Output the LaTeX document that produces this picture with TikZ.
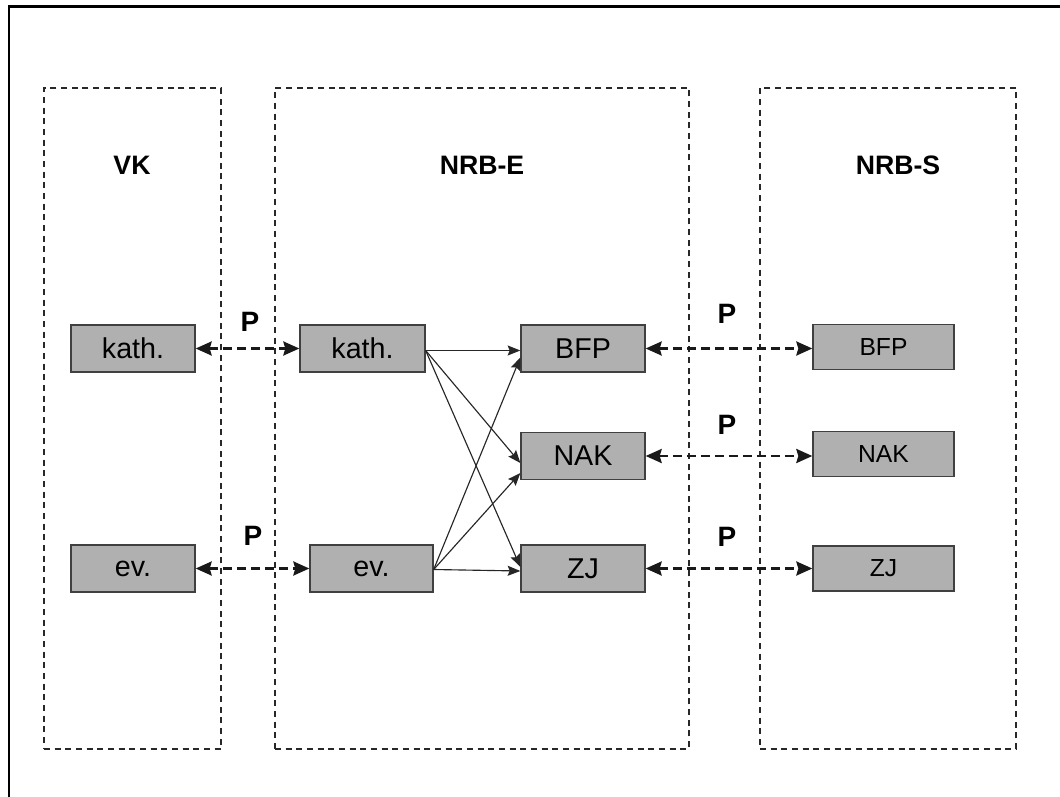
\documentclass[tikz,border=0pt]{standalone}
\usepackage{fontspec}
\setmainfont{Liberation Sans}
\usetikzlibrary{arrows.meta,calc}
\definecolor{boxgray}{RGB}{176,176,176}
\definecolor{framegray}{RGB}{40,40,40}
\begin{document}
\begin{tikzpicture}[x=0.75pt,y=-0.75pt,
  frame/.style={draw=framegray, line width=1.4pt, dash pattern=on 4.6pt off 3.4pt, minimum height=495.75pt, inner sep=0pt},
  box/.style={draw=black!75, fill=boxgray, line width=1pt, minimum width=93pt, minimum height=35.25pt, inner sep=0pt, font=\fontsize{21.5}{25}\selectfont},
  sbox/.style={box, minimum width=105.75pt, minimum height=33.75pt, font=\fontsize{18.5}{22}\selectfont},
  title/.style={font=\bfseries\fontsize{20}{24}\selectfont},
  plabel/.style={font=\bfseries\fontsize{21}{25}\selectfont},
  link/.style={black!90, line width=2pt, dash pattern=on 6.5pt off 4pt,
    {Stealth[length=12pt,width=10.5pt,inset=1.5pt]}-{Stealth[length=12pt,width=10.5pt,inset=1.5pt]}},
  flow/.style={black!85, line width=0.85pt, -{Stealth[length=9.5pt,width=7.5pt,inset=1.5pt]}}
]
\useasboundingbox (0,0) rectangle (1060,796);
\fill[white] (0,0) rectangle (1060,796);
% outer frame (only left and top edges visible)
\draw[line width=2.2pt] (9,805) -- (9,6.7) -- (1070,6.7);

% containers
\node[frame, minimum width=132.75pt] (cvk) at (132.5,418.5) {};
\node[frame, minimum width=310.5pt] (cnrbe) at (482,418.5) {};
\node[frame, minimum width=192pt] (cnrbs) at (888,418.5) {};

% titles
\node[title] (tvk) at (132,165) {VK};
\node[title] (tnrbe) at (482,165) {NRB-E};
\node[title] (tnrbs) at (898,165) {NRB-S};

% boxes
\node[box] (vkk) at (133,348.5) {kath.};
\node[box] (vke) at (133,568.5) {ev.};
\node[box, minimum width=93.75pt] (ek) at (362.5,348.5) {kath.};
\node[box, minimum width=92.25pt] (ee) at (371.5,568.5) {ev.};
\node[box] (bfp) at (583,348.5) {BFP};
\node[box] (nak) at (583,456) {NAK};
\node[box] (zj) at (583,568.5) {ZJ};
\node[sbox] (sbfp) at (883.5,347) {BFP};
\node[sbox] (snak) at (883.5,454) {NAK};
\node[sbox] (szj) at (883.5,568.5) {ZJ};

% P labels
\node[plabel] (p1) at (250,322) {P};
\node[plabel] (p2) at (253,536) {P};
\node[plabel] (p3) at (727,314) {P};
\node[plabel] (p4) at (727,425) {P};
\node[plabel] (p5) at (727,537) {P};

% dashed double arrows
\draw[link] (vkk.east) -- (ek.west);
\draw[link] (vke.east) -- (ee.west);
\draw[link] (bfp.east) -- (bfp.east -| sbfp.west);
\draw[link] (nak.east) -- (nak.east -| snak.west);
\draw[link] (zj.east) -- (zj.east -| szj.west);

% flows
\coordinate (ko) at ($(ek.east)+(0,2)$);
\coordinate (eo) at ($(ee.east)+(0,1)$);
\draw[flow] (ko) -- ($(bfp.west)+(0,2)$);
\draw[flow] (ko) -- ($(nak.west)+(0,7)$);
\draw[flow] (ko) -- ($(zj.west)+(0,-1.5)$);
\draw[flow] (eo) -- ($(bfp.west)+(0,9)$);
\draw[flow] (eo) -- ($(nak.west)+(0,17)$);
\draw[flow] (eo) -- ($(zj.west)+(0,2.5)$);
\end{tikzpicture}
\end{document}
